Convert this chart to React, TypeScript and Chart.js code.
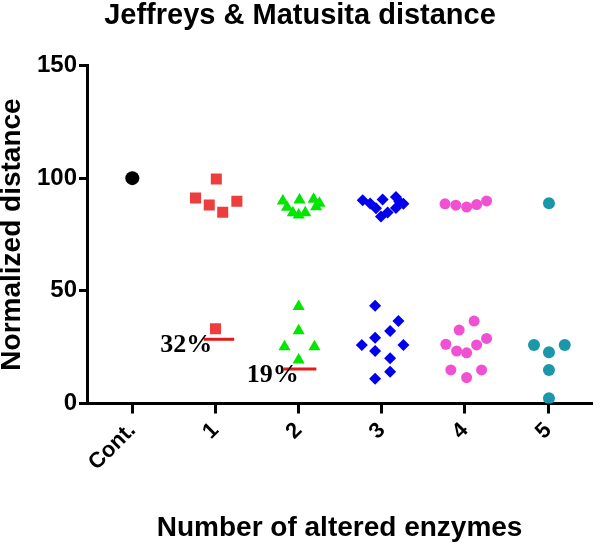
import React, { useEffect, useRef } from "react";
import { Chart, registerables } from "chart.js";

Chart.register(...registerables);

const TITLE = "Jeffreys & Matusita distance";
const X_TITLE = "Number of altered enzymes";
const Y_TITLE = "Normalized distance";
const categories = ["Cont.", "1", "2", "3", "4", "5"];
const yTicks = [0, 50, 100, 150];

// each group: values and horizontal jitter (in category units)
const contValues = [100];
const contJitter = [0];

const g1Values = [99.6, 91.2, 88.1, 84.9, 89.8, 33.2];
const g1Jitter = [0.01, -0.24, -0.075, 0.087, 0.257, 0.0];

const g2Values = [89.9, 90.3, 90.6, 88.9, 87.1, 84.7, 83.7, 84.7, 87.3, 43.0, 32.3, 25.2, 25.2, 19.3];
const g2Jitter = [-0.19, 0.01, 0.18, 0.25, -0.14, -0.07, 0.0, 0.08, 0.21, 0.0, 0.0, -0.17, 0.19, 0.0];

const g3Values = [90.2, 88.8, 86.7, 90.5, 83.0, 84.8, 91.6, 89.6, 86.8, 88.7, 43.4, 36.6, 32.2, 29.2, 26.0, 26.0, 23.3, 20.1, 14.1, 11.0];
const g3Jitter = [-0.23, -0.14, -0.07, 0.01, -0.01, 0.07, 0.17, 0.21, 0.17, 0.26, -0.08, 0.2, 0.1, -0.08, -0.24, 0.26, -0.08, 0.1, 0.1, -0.08];

const g4Values = [88.6, 88.0, 87.2, 88.3, 89.9, 36.6, 32.6, 28.9, 26.3, 26.0, 23.3, 22.5, 14.9, 14.9, 11.5];
const g4Jitter = [-0.24, -0.11, 0.02, 0.14, 0.26, 0.11, -0.07, 0.26, -0.23, 0.14, -0.1, 0.02, -0.17, 0.2, 0.02];

const g5Values = [88.9, 26.0, 26.0, 22.7, 14.9, 2.3];
const g5Jitter = [0.01, -0.17, 0.2, 0.01, 0.01, 0.01];

// red reference lines: [group, value, from offset, to offset, label]
const refGroups = [1, 2];
const refValues = [28.5, 15.3];
const refFrom = [-0.142, -0.178];
const refTo = [0.225, 0.213];
const refLabels = ["32%", "19%"];
const refLabelX = [0.96, 2.0];
const refLabelY = [22.9, 9.5];

const SANS = "'Liberation Sans', Arial, sans-serif";

function pts(group: number, values: number[], jitter: number[]) {
  return values.map((v, i) => ({ x: group + jitter[i], y: v }));
}

const annotationPlugin = {
  id: "refAnnotations",
  afterDatasetsDraw(chart: any) {
    const { ctx, scales } = chart;
    const xs = scales.x;
    const ys = scales.y;
    ctx.save();
    refGroups.forEach((g, i) => {
      const y = ys.getPixelForValue(refValues[i]);
      ctx.strokeStyle = "#e41a1a";
      ctx.lineWidth = 3;
      ctx.beginPath();
      ctx.moveTo(xs.getPixelForValue(g + refFrom[i]), y);
      ctx.lineTo(xs.getPixelForValue(g + refTo[i]), y);
      ctx.stroke();
      ctx.fillStyle = "#000";
      ctx.font = "bold 26px 'Liberation Serif', 'Times New Roman', serif";
      ctx.textAlign = "right";
      ctx.textBaseline = "alphabetic";
      ctx.fillText(refLabels[i], xs.getPixelForValue(refLabelX[i]), ys.getPixelForValue(refLabelY[i]));
    });
    ctx.restore();
  },
};

export default function App() {
  const ref = useRef<HTMLCanvasElement>(null);
  useEffect(() => {
    if (!ref.current) return;
    const chart = new Chart(ref.current, {
      type: "scatter",
      data: {
        datasets: [
          { data: pts(0, contValues, contJitter), pointStyle: "circle", pointRadius: 7, backgroundColor: "#000", borderColor: "#000", borderWidth: 0 },
          { data: pts(1, g1Values, g1Jitter), pointStyle: "rect", pointRadius: 7.8, backgroundColor: "#ee3d3d", borderColor: "#ee3d3d", borderWidth: 0 },
          { data: pts(2, g2Values, g2Jitter), pointStyle: "triangle", pointRadius: 7, backgroundColor: "#00e600", borderColor: "#00e600", borderWidth: 0 },
          { data: pts(3, g3Values, g3Jitter), pointStyle: "rectRot", pointRadius: 6, backgroundColor: "#0000ee", borderColor: "#0000ee", borderWidth: 0 },
          { data: pts(4, g4Values, g4Jitter), pointStyle: "circle", pointRadius: 5.5, backgroundColor: "#f050d2", borderColor: "#f050d2", borderWidth: 0 },
          { data: pts(5, g5Values, g5Jitter), pointStyle: "circle", pointRadius: 6, backgroundColor: "#1a97aa", borderColor: "#1a97aa", borderWidth: 0 },
        ],
      },
      options: {
        animation: false,
        responsive: false,
        devicePixelRatio: 1,
        layout: { padding: { top: 0, left: 0, right: 0, bottom: 0 } },
        plugins: {
          legend: { display: false },
          tooltip: { enabled: false },
          title: {
            display: true,
            text: TITLE,
            color: "#000",
            font: { family: SANS, size: 29, weight: "bold", lineHeight: 1 },
            padding: { top: 1, bottom: 35.5 },
          },
        },
        scales: {
          x: {
            type: "linear",
            min: -0.545,
            max: 5.53,
            afterBuildTicks: (scale: any) => {
              scale.ticks = categories.map((_, i) => ({ value: i }));
            },
            afterFit: (scale: any) => {
              scale.height = 141.5;
            },
            border: { display: true, color: "#000", width: 3 },
            grid: { display: true, drawOnChartArea: false, drawTicks: true, tickLength: 10, tickWidth: 3, tickColor: "#000" },
            ticks: {
              color: "#000",
              font: { family: SANS, size: 22, weight: "bold" },
              minRotation: 45,
              maxRotation: 45,
              padding: 4,
              callback: (v: any) => categories[Math.round(Number(v))] ?? "",
            },
            title: {
              display: true,
              text: X_TITLE,
              color: "#000",
              font: { family: SANS, size: 28, weight: "bold", lineHeight: 1.2 },
              padding: { top: 0, bottom: 0 },
            },
          },
          y: {
            type: "linear",
            min: 0,
            max: 150,
            afterBuildTicks: (scale: any) => {
              scale.ticks = yTicks.map((v) => ({ value: v }));
            },
            afterFit: (scale: any) => {
              scale.width = 87;
            },
            border: { display: true, color: "#000", width: 3 },
            grid: { display: true, drawOnChartArea: false, drawTicks: true, tickLength: 8, tickWidth: 3, tickColor: "#000" },
            ticks: {
              color: "#000",
              font: { family: SANS, size: 24, weight: "bold" },
              padding: 2,
            },
            title: {
              display: true,
              text: Y_TITLE,
              color: "#000",
              font: { family: SANS, size: 28, weight: "bold", lineHeight: 0.9 },
              padding: { top: 0, bottom: 0 },
            },
          },
        },
      } as any,
      plugins: [annotationPlugin],
    });
    return () => chart.destroy();
  }, []);
  return (
    <div style={{ position: "absolute", left: 0, top: 0, width: 600, height: 545, background: "#fff" }}>
      <canvas ref={ref} width={600} height={545} />
    </div>
  );
}
